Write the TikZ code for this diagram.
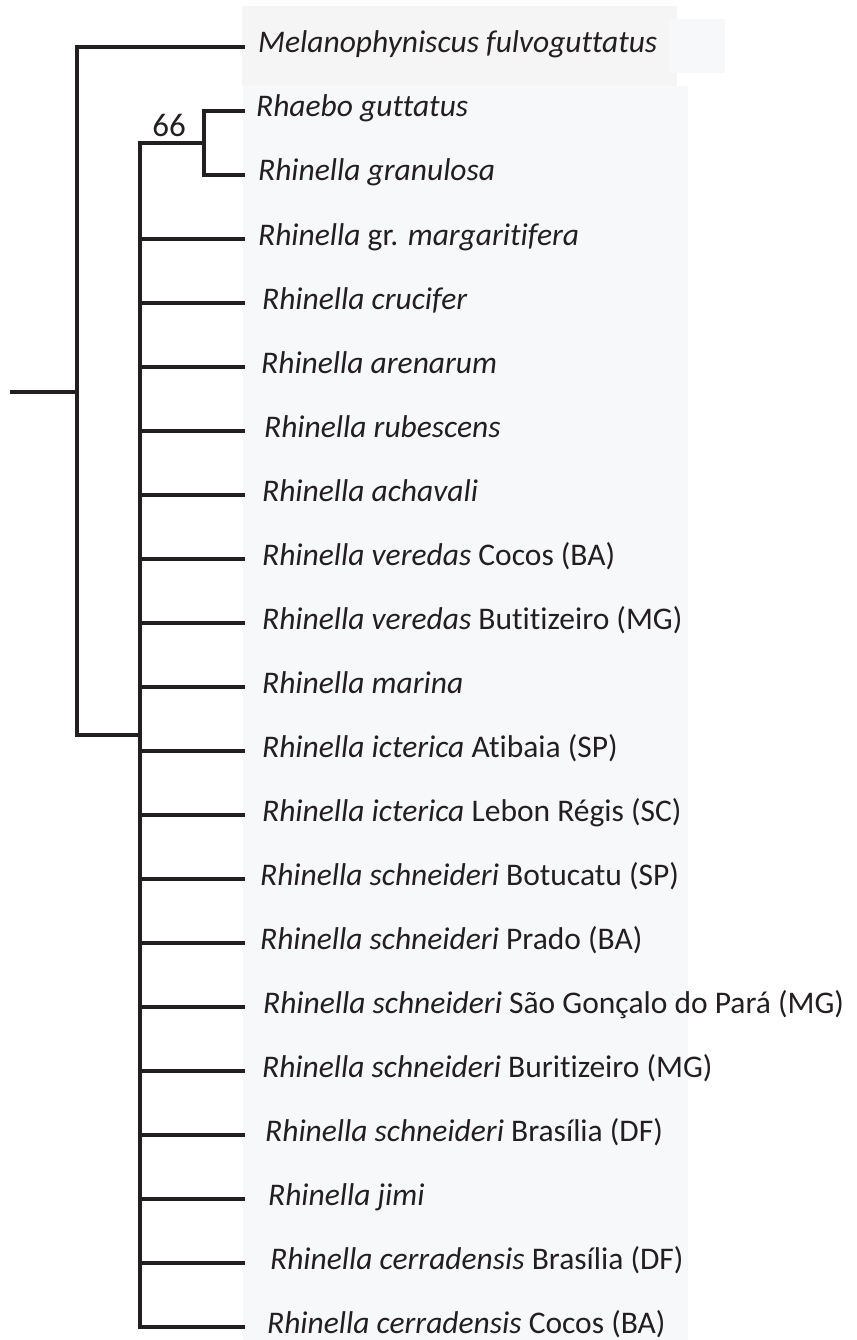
\documentclass[tikz,border=0pt]{standalone}
\usepackage{fontspec}
\setmainfont[Ligatures=NoCommon]{Carlito}
\begin{document}
\begin{tikzpicture}[x=1pt,y=-1pt,
  branch/.style={line width=3.2pt,draw=ink,line cap=rect,line join=miter},
  taxon/.style={anchor=base west,inner sep=0pt,text=ink,font=\fontsize{31.5}{36}\selectfont},
  support/.style={anchor=base,inner sep=0pt,text=ink,font=\fontsize{33}{38}\selectfont}]
\definecolor{ink}{HTML}{231F20}
\definecolor{panelA}{HTML}{F5F5F5}
\definecolor{panelB}{HTML}{F7F8FA}
\useasboundingbox (0,0) rectangle (856,1340);
% label panels
\fill[panelA] (242,6) rectangle (677,86);
\fill[panelB] (669,19) rectangle (725,73);
\fill[panelB] (243,86) rectangle (688,1340);
% internal nodes
\coordinate (root) at (77,392);
\coordinate (stem) at (12,392);
\coordinate (ingroup) at (140,735);
\coordinate (n66) at (204,143);
% leaf tips (y = 47 + 64 k)
\foreach \k in {0,...,20}{
  \coordinate (tip\k) at (243,{47+64*\k});
}
% taxon labels
\node[taxon] (t0) at (258,{47+6}) {\textit{Melanophyniscus fulvoguttatus}};
\node[taxon] (t1) at (256,{111+6}) {\textit{Rhaebo guttatus}};
\node[taxon] (t2) at (258,{175+6}) {\textit{Rhinella granulosa}};
\node[taxon] (t3) at (258,{239+6}) {\textit{Rhinella} gr. \textit{margaritifera}};
\node[taxon] (t4) at (262,{303+6}) {\textit{Rhinella crucifer}};
\node[taxon] (t5) at (261,{367+6}) {\textit{Rhinella arenarum}};
\node[taxon] (t6) at (264,{431+6}) {\textit{Rhinella rubescens}};
\node[taxon] (t7) at (262,{495+6}) {\textit{Rhinella achavali}};
\node[taxon] (t8) at (262,{559+6}) {\textit{Rhinella veredas} Cocos (BA)};
\node[taxon] (t9) at (262,{623+6}) {\textit{Rhinella veredas} Butitizeiro (MG)};
\node[taxon] (t10) at (262,{687+6}) {\textit{Rhinella marina}};
\node[taxon] (t11) at (262,{751+6}) {\textit{Rhinella icterica} Atibaia (SP)};
\node[taxon] (t12) at (262,{815+6}) {\textit{Rhinella icterica} Lebon Régis (SC)};
\node[taxon] (t13) at (260,{879+6}) {\textit{Rhinella schneideri} Botucatu (SP)};
\node[taxon] (t14) at (260,{943+6}) {\textit{Rhinella schneideri} Prado (BA)};
\node[taxon] (t15) at (263,{1007+6}) {\textit{Rhinella schneideri} São Gonçalo do Pará (MG)};
\node[taxon] (t16) at (262,{1071+6}) {\textit{Rhinella schneideri} Buritizeiro (MG)};
\node[taxon] (t17) at (265,{1135+6}) {\textit{Rhinella schneideri} Brasília (DF)};
\node[taxon] (t18) at (268,{1199+6}) {\textit{Rhinella jimi}};
\node[taxon] (t19) at (270,{1263+6}) {\textit{Rhinella cerradensis} Brasília (DF)};
\node[taxon] (t20) at (267,{1327+6}) {\textit{Rhinella cerradensis} Cocos (BA)};
% support value
\node[support] (s66) at (169,137) {66};
% branches
\draw[branch] (stem) -- (root);
\draw[branch] (root) |- (tip0);
\draw[branch] (root) |- (ingroup);
\draw[branch] (ingroup) |- (n66);
\draw[branch] (n66) |- (tip1);
\draw[branch] (n66) |- (tip2);
\foreach \k in {3,...,20}{
  \draw[branch] (ingroup) |- (tip\k);
}
\end{tikzpicture}
\end{document}
